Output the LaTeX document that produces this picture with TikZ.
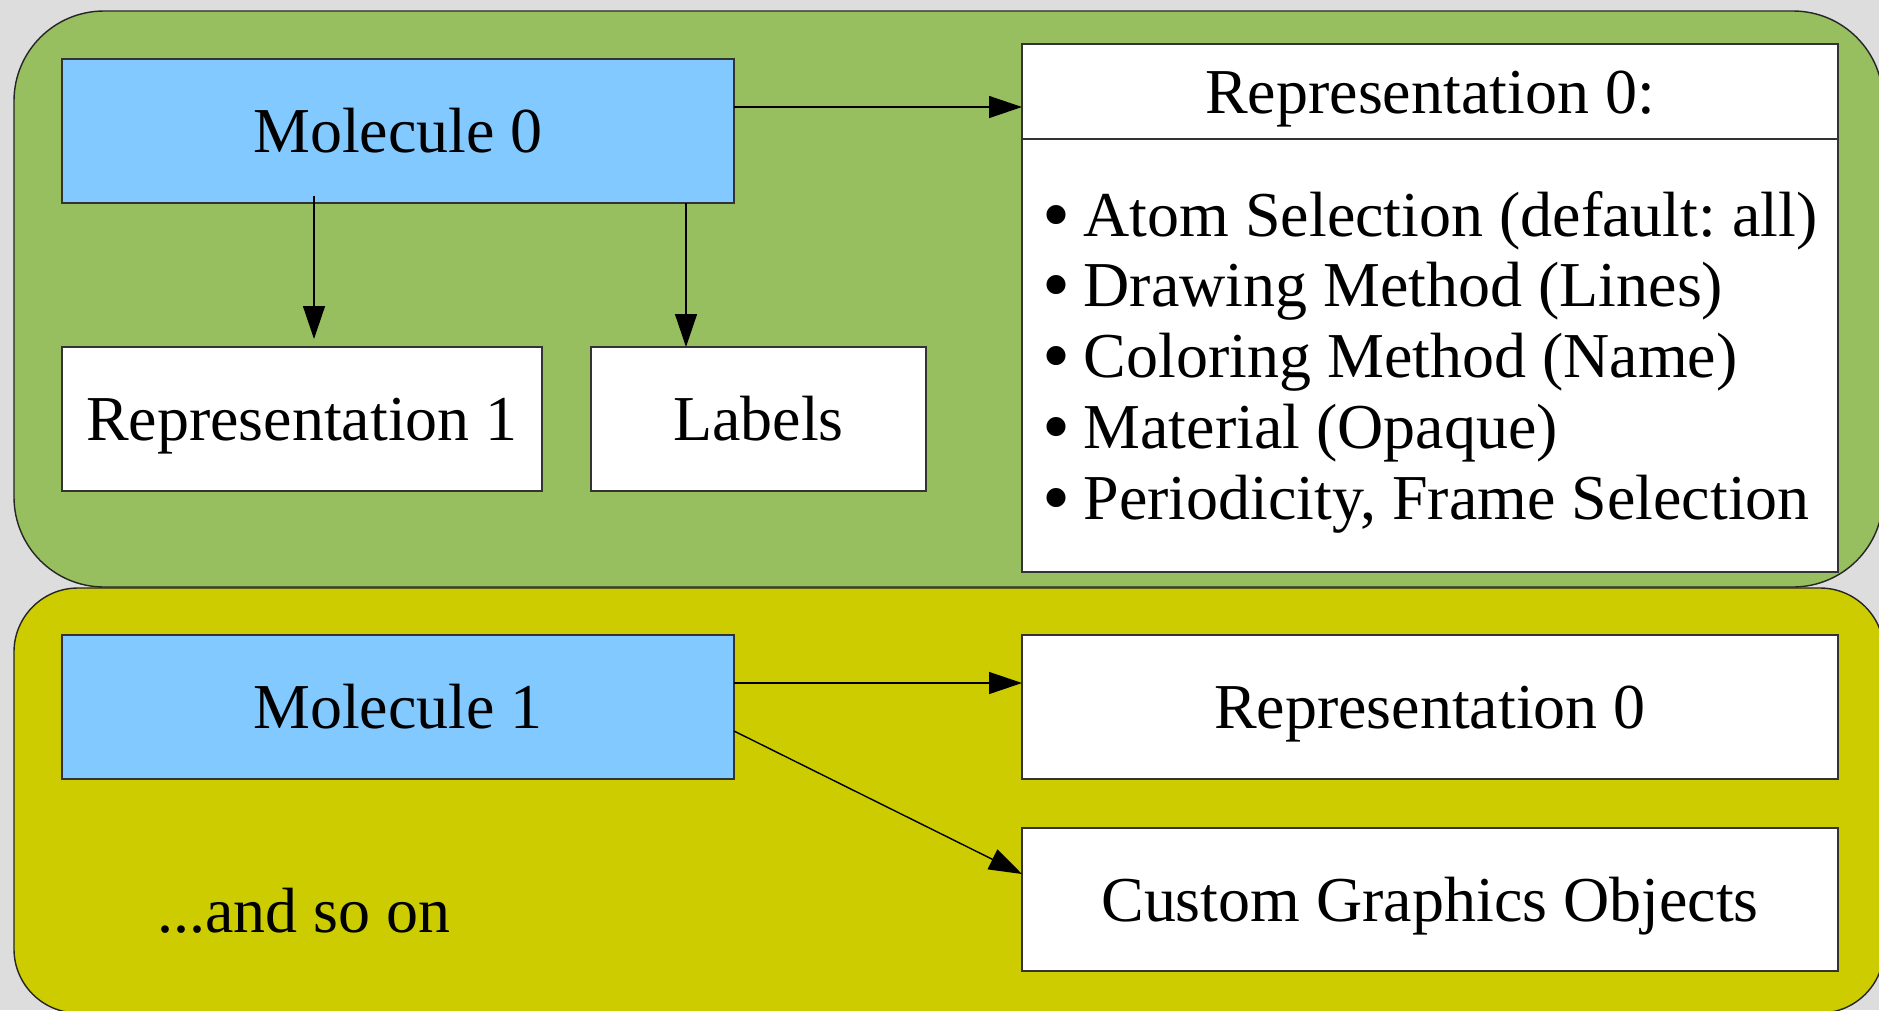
\documentclass[tikz,border=0pt]{standalone}
\usepackage{fontspec}
\setmainfont{Liberation Serif}
\usetikzlibrary{arrows.meta, positioning, calc}
\definecolor{panelgreen}{HTML}{97BF60}
\definecolor{panelyellow}{HTML}{CCCC00}
\definecolor{molblue}{HTML}{81C9FF}
\definecolor{canvasgray}{HTML}{DDDDDD}
\frenchspacing
\tikzset{
  box/.style={rectangle,draw=black!80,line width=0.4pt,inner sep=0pt,outer sep=0pt,text height=16.2pt,text depth=3.9pt,font=\fontsize{18.2}{20.1}\selectfont},
  molecule/.style={box,fill=molblue,minimum width=6.72cm,minimum height=1.44cm},
  repbox/.style={box,fill=white,minimum height=1.44cm},
  panel/.style={draw=black!85,line width=0.4pt},
  relation/.style={draw=black,line width=0.4pt,-{Triangle[length=0.33cm,width=0.22cm]}},
  listitem/.style={anchor=base west,inner sep=0pt,text height=13pt,text depth=3.5pt,font=\fontsize{18.2}{20.1}\selectfont},
}
\newcommand{\listbullet}{\makebox[0.41cm][l]{\raisebox{-0.08em}{\scalebox{1.25}{\textbullet}}}}

\begin{document}
\begin{tikzpicture}
	    \fill[canvasgray] (0,0) rectangle (18.79,-10.10);
	    \useasboundingbox (0,0) rectangle (18.79,-10.10);
	    % the two molecule panels
	    \draw[panel,fill=panelgreen,rounded corners=0.9cm] (0.14,-0.11) rectangle (18.83,-5.87);
	    \draw[panel,fill=panelyellow,rounded corners=0.64cm] (0.14,-5.88) rectangle (18.84,-10.13);

	    % molecule 0
	    \node[molecule,anchor=north west] (mol0) at (0.62,-0.59) {Molecule 0};
	    \node[repbox,minimum width=4.80cm,below=1.44cm of mol0.south west,anchor=north west] (rep1) {Representation 1};
	    \node[repbox,minimum width=3.35cm,right=0.49cm of rep1] (labels) {Labels};
	    \node[box,fill=white,minimum width=8.16cm,minimum height=5.28cm,anchor=north west] (rep0) at (10.22,-0.44) {};
	    \coordinate (rep0rule) at ($(rep0.north west)+(0,-0.95)$);
	    \draw[draw=black!80,line width=0.4pt] (rep0rule) -- (rep0rule -| rep0.east);
	    \node[box,draw=none] (rep0head) at ($(rep0.north)!0.5!(rep0rule -| rep0.north)$) {Representation 0:};
	    \foreach \entry [count=\i] in {Atom Selection (default: all), Drawing Method (Lines),
	    	Coloring Method (Name), Material (Opaque), {Periodicity, Frame Selection}}
	    	\node[listitem] (item\i) at ($(rep0.north west)+(0.20,-1.2125-0.7075*\i)$)
	    		{\listbullet\entry};

	    % molecule 1
	    \node[molecule,below=4.32cm of mol0] (mol1) {Molecule 1};
	    \node[repbox,minimum width=8.16cm,right=2.88cm of mol1] (rep0b) {Representation 0};
	    \node[repbox,minimum width=8.16cm,minimum height=1.43cm,below=0.49cm of rep0b] (custom) {Custom Graphics Objects};
	    \node[listitem,anchor=base] (andsoon) at (3.04,-9.32) {...and so on};

	    % connectors
	    \coordinate (m0out) at ([yshift=0.24cm]mol0.east);
	    \draw[relation] (m0out) -- (m0out -| rep0.west);
	    \draw[relation] ([shift={(2.52,0.07)}]mol0.south west) -- ([shift={(2.52,0.08)}]rep1.north west);
	    \coordinate (lblin) at ([xshift=-0.725cm]labels.north);
	    \draw[relation] (lblin |- mol0.south) -- (lblin);
	    \coordinate (m1out) at ([yshift=0.24cm]mol1.east);
	    \draw[relation] (m1out) -- (m1out -| rep0b.west);
	    \draw[relation] ([yshift=-0.24cm]mol1.east) -- ([yshift=0.255cm]custom.west);
	\end{tikzpicture}
\end{document}
